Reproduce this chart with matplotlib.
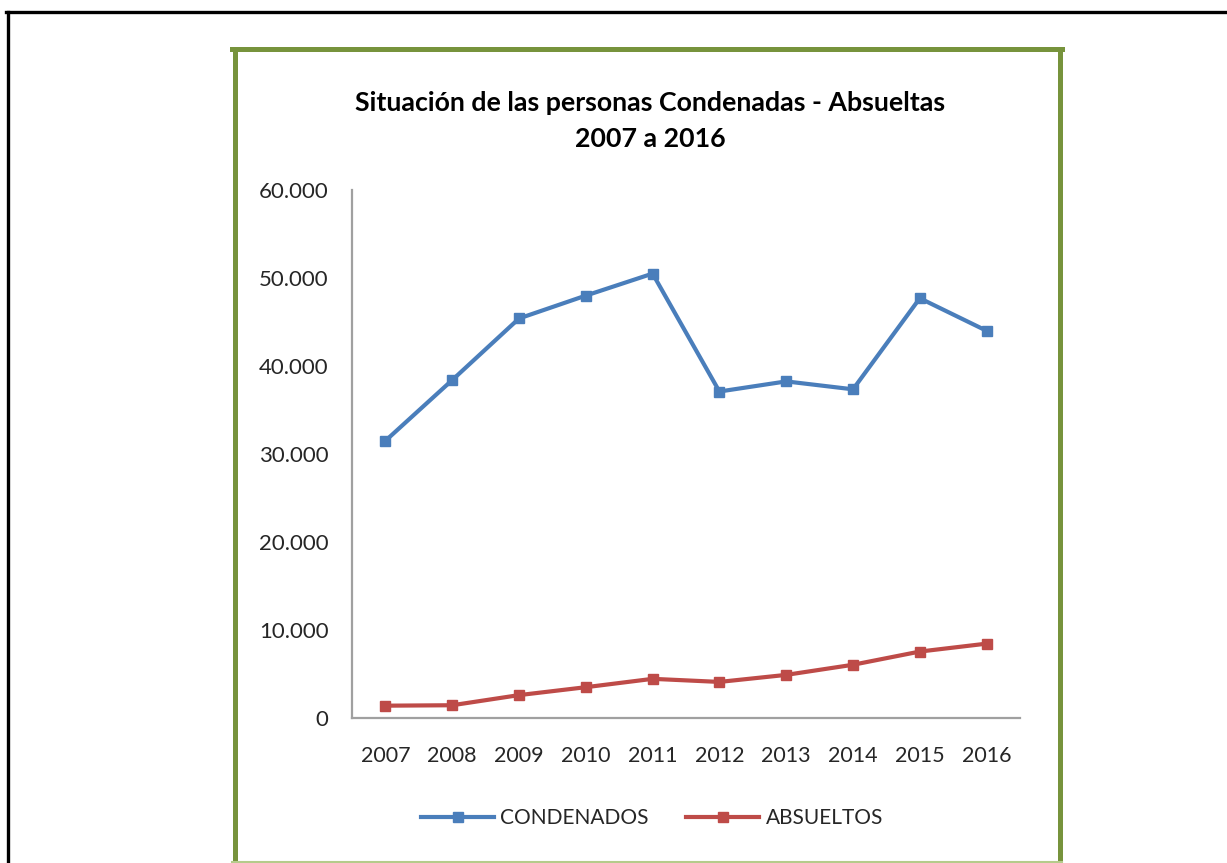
import matplotlib
matplotlib.use("Agg")
import matplotlib.pyplot as plt
from matplotlib.lines import Line2D
from matplotlib.ticker import FuncFormatter

years = ["2007", "2008", "2009", "2010", "2011", "2012", "2013", "2014", "2015", "2016"]
condenados = [31500, 38400, 45400, 48000, 50500, 37100, 38250, 37350, 47700, 44000]
absueltos = [1400, 1450, 2600, 3500, 4450, 4100, 4900, 6050, 7550, 8450]
title_lines = ["Situación de las personas Condenadas - Absueltas", "2007 a 2016"]
yticks = [0, 10000, 20000, 30000, 40000, 50000, 60000]

W, H = 1227, 863
fig = plt.figure(figsize=(W / 100, H / 100), dpi=100)
plt.rcParams['font.family'] = ['Lato', 'DejaVu Sans']

def fx(px):
    return px / W

def fy(py):
    return 1 - py / H

# outer black frame (top and left edges visible)
fig.add_artist(Line2D([fx(7.5), fx(7.5)], [fy(12), fy(H + 5)], color="black", lw=2.4, transform=fig.transFigure))
fig.add_artist(Line2D([fx(6.3), fx(W + 5)], [fy(12), fy(12)], color="black", lw=2.4, transform=fig.transFigure))

# green chart frame
green = "#77933C"
fig.add_artist(Line2D([fx(234.5), fx(234.5)], [fy(49.5), fy(H + 5)], color=green, lw=3.6, transform=fig.transFigure))
fig.add_artist(Line2D([fx(1059.5), fx(1059.5)], [fy(49.5), fy(H + 5)], color=green, lw=3.6, transform=fig.transFigure))
fig.add_artist(Line2D([fx(232), fx(1062)], [fy(49.5), fy(49.5)], color=green, lw=3.6, transform=fig.transFigure))
fig.add_artist(Line2D([fx(232), fx(1062)], [fy(862), fy(862)], color="#B5CB8B", lw=1.5, transform=fig.transFigure))

# axes area
left, right, top, bottom = 352, 1020, 190, 718
ax = fig.add_axes([fx(left), fy(bottom), (right - left) / W, (bottom - top) / H])

x = list(range(len(years)))
ax.plot(x, condenados, color="#4A7EBB", lw=3.0, marker="s", markersize=7.5, label="CONDENADOS")
ax.plot(x, absueltos, color="#BE4B48", lw=3.0, marker="s", markersize=7.5, label="ABSUELTOS")

ax.set_xlim(-0.5, len(years) - 0.5)
ax.set_ylim(0, 60000)
ax.set_yticks(yticks)
ax.yaxis.set_major_formatter(FuncFormatter(lambda v, p: "0" if v == 0 else f"{int(v):,}".replace(",", ".")))
ax.set_xticks(x)
ax.set_xticklabels(years)

for s in ["top", "right"]:
    ax.spines[s].set_visible(False)
for s in ["left", "bottom"]:
    ax.spines[s].set_color("#A0A0A0")
    ax.spines[s].set_linewidth(1.6)

ax.tick_params(axis="both", length=0, labelcolor="#262626")
ax.tick_params(axis="y", pad=17, labelsize=16)
ax.tick_params(axis="x", pad=20.5, labelsize=15.5)

fig.text(fx(650), fy(103), title_lines[0], ha="center", va="center", fontsize=19.3, fontweight="bold", color="black")
fig.text(fx(650), fy(139), title_lines[1], ha="center", va="center", fontsize=19.3, fontweight="bold", color="black")

handles, labels = ax.get_legend_handles_labels()
fig.legend(handles, labels, loc="center", bbox_to_anchor=(fx(652), fy(818)), ncol=2, frameon=False,
           fontsize=15, handlelength=3.5, handletextpad=0.3, columnspacing=1.8, labelcolor="#262626")

fig.savefig("out.png", dpi=100, facecolor="white")
